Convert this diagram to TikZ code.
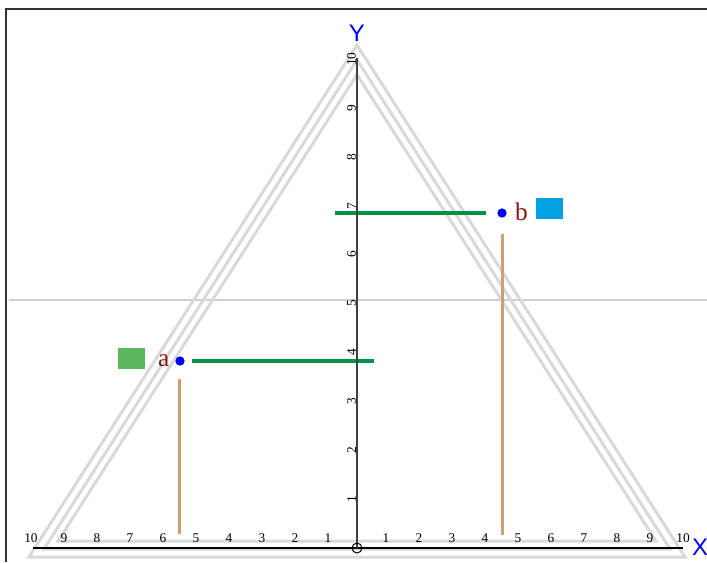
\documentclass[tikz,border=0pt]{standalone}
\usepackage{fontspec}
\setmainfont{Liberation Serif}
\newfontfamily\axisfont{Liberation Sans}
\usetikzlibrary{positioning}
\definecolor{trigray}{RGB}{217,217,217}
\definecolor{midgray}{RGB}{206,206,206}
\definecolor{levelgreen}{RGB}{0,146,69}
\definecolor{droptan}{RGB}{200,162,112}
\definecolor{ptred}{RGB}{140,20,20}
\definecolor{sqgreen}{RGB}{92,184,92}
\definecolor{sqblue}{RGB}{0,160,225}
\definecolor{framegray}{RGB}{50,50,50}

\begin{document}
\begin{tikzpicture}[
  x=24.75pt, y=36.675pt,
  tri/.style={draw=trigray, line width=2.25pt},
  greenbar/.style={levelgreen, line width=3pt},
  tanbar/.style={droptan, line width=2.25pt},
  dot/.style={circle, fill=blue, inner sep=0pt, minimum size=7pt},
  ptlbl/.style={text=ptred, font=\fontsize{19}{21}\selectfont, inner sep=1pt},
  swatch/.style={minimum width=20.25pt, minimum height=15.75pt, inner sep=0pt},
  ticklbl/.style={font=\fontsize{10}{11}\selectfont, inner sep=0.5pt},
  axlbl/.style={text=blue, font=\axisfont\fontsize{18}{20}\selectfont, inner sep=0pt},
]
\useasboundingbox (-10.818,-0.286) rectangle (10.606,11.207);

% frame and the middle line
\draw[framegray, line width=1.5pt] (10.606,11.022) -- (-10.636,11.022) -- (-10.636,-0.286);
\draw[midgray, line width=1.1pt] (-10.55,5.07) -- (10.606,5.07);

% nested triangles
\draw[tri] (-9.94,-0.184) -- (0,10.286) -- (9.94,-0.184) -- cycle;
\draw[tri] (-9.485,-0.02) -- (0,9.984) -- (9.485,-0.02) -- cycle;
\draw[tri] (-9.06,0.143) -- (0,9.681) -- (9.06,0.143) -- cycle;

% points
\node[dot] (a) at (-5.364,3.824) {};
\node[dot] (b) at (4.394,6.851) {};
\node[ptlbl, left=3pt of a] (alab) {a};
\node[ptlbl, right=5pt of b, yshift=1pt] (blab) {b};
\node[swatch, fill=sqgreen] (asq) at (-6.833,3.885) {};
\node[swatch, fill=sqblue] (bsq) at (5.833,6.943) {};

\coordinate (aend) at (0.515,3.824);
\coordinate (bstart) at (-0.667,6.851);
\coordinate (afoot) at (a |- 0,0.286);
\coordinate (bfoot) at (b |- 0,0.266);

\draw[greenbar, shorten <=5pt] (a.east) -- (aend);
\draw[greenbar, shorten >=8pt] (bstart) -- (b.west);
\draw[tanbar, shorten <=10pt] (a.south) -- (afoot);
\draw[tanbar, shorten <=11.7pt] (b.south) -- (bfoot);

% axes
\draw[black, line width=1.5pt] (-9.82,0) -- (9.88,0);
\draw[black!75, line width=1.5pt] (0,0) -- (0,10.02);
\node[circle, draw, line width=0.75pt, minimum size=7.5pt, inner sep=0pt] (o) at (0,0) {};
\node[axlbl] (xlbl) at (10.394,0.02) {X};
\node[axlbl] (ylbl) at (0,10.53) {Y};

\foreach \k in {1,...,10} {
  \node[ticklbl, anchor=base] at (\k-0.12,0.12) {\k};
  \node[ticklbl, anchor=base] at (-\k+0.12,0.12) {\k};
  \node[ticklbl, anchor=south, rotate=90] at (0,\k) {\k};
}

\end{tikzpicture}
\end{document}
